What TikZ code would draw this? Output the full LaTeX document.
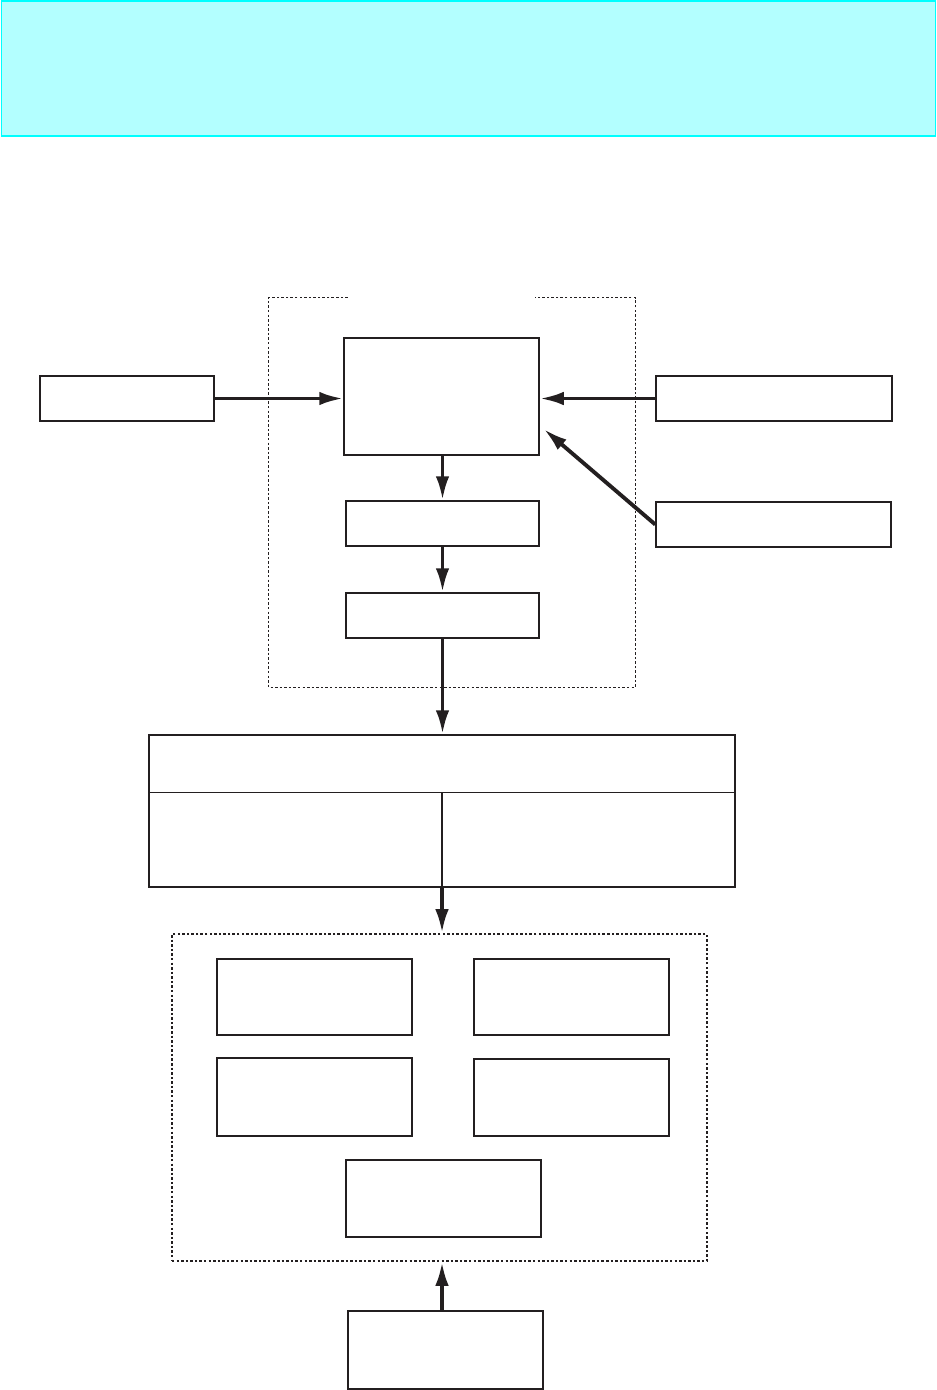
\documentclass[tikz,border=0pt]{standalone}
\usepackage{tikz}
\usetikzlibrary{arrows.meta,positioning,calc}
\definecolor{bannerfill}{HTML}{B3FFFF}
\definecolor{bannerline}{HTML}{00FFFF}
\definecolor{ink}{HTML}{231F20}

\begin{document}
\begin{tikzpicture}[
    blk/.style={draw=ink, line width=0.85pt, minimum width=3.9cm, minimum height=0.9cm, inner sep=0pt},
    grp/.style={draw=ink, line width=0.9pt, dash pattern=on 1.4pt off 1.2pt, inner sep=0pt},
    conn/.style={-{Latex[length=0.48cm,width=0.27cm]}, line width=2.2pt, draw=ink},
    banner/.style={draw=bannerline, fill=bannerfill, line width=0.8pt, inner sep=0pt}
]
\useasboundingbox (0,0) rectangle (18.74,-27.8);

% --- Top banner ---
\node[banner, minimum width=18.68cm, minimum height=2.7cm] (top) at (9.37, -1.37) {};

% --- Upper group (frame with open top) ---
\node[inner sep=0pt, minimum width=7.32cm, minimum height=7.78cm] (g1) at (9.04, -9.85) {};
\draw[grp] ([xshift=1.58cm]g1.north west) -- (g1.north west) -- (g1.south west)
    -- (g1.south east) -- (g1.north east) -- ([xshift=-2cm]g1.north east);

\node[blk, minimum height=2.34cm] (core) at (8.83, -7.93) {};
\node[blk, minimum width=3.86cm] (stepa) at (8.85, -10.47) {};
\node[blk, minimum width=3.86cm] (stepb) at (8.85, -12.31) {};

% Side inputs
\node[blk, minimum width=3.48cm] (inl)  at (2.54, -7.97)  {};
\node[blk, minimum width=4.72cm] (inr)  at (15.48, -7.97) {};
\node[blk, minimum width=4.7cm]  (inr2) at (15.47, -10.49) {};

% --- Table ---
\node[blk, minimum width=11.72cm, minimum height=3.04cm] (tab) at (8.84, -16.22) {};
\coordinate (tabl) at ([yshift=-1.16cm]tab.north west);
\coordinate (tabr) at ([yshift=-1.16cm]tab.north east);
\draw[ink, line width=0.85pt] (tabl) -- (tabr);
\draw[ink, line width=0.85pt] ($(tabl)!0.5!(tabr)$) -- (tab.south);

% --- Lower group ---
\node[grp, minimum width=10.7cm, minimum height=6.54cm] (g2) at (8.79, -21.95) {};
\node[blk, minimum height=1.52cm] (ca) at (6.29, -19.94)  {};
\node[blk, minimum height=1.52cm] (cb) at (11.43, -19.94) {};
\node[blk, minimum height=1.56cm] (cc) at (6.29, -21.94)  {};
\node[blk, minimum height=1.54cm] (cd) at (11.43, -21.95) {};
\node[blk, minimum height=1.54cm] (ce) at (8.87, -23.97)  {};

% Bottom source
\node[blk, minimum height=1.56cm] (src) at (8.91, -27.0) {};

% === Connectors ===
\draw[conn] (inl.east) -- (inl.east -| core.west);
\draw[conn] (inr.west) -- (inr.west -| core.east);
\draw[conn] (inr2.west) -- ([xshift=0.08cm, yshift=-0.65cm]core.east);

\draw[conn] (stepa.north |- core.south) -- (stepa.north);
\draw[conn] (stepa.south) -- (stepb.north);
\draw[conn] (stepb.south) -- (stepb.south |- tab.north);
\draw[conn] (tab.south) -- (tab.south |- g2.north);
\draw[conn] ([xshift=-0.07cm]src.north) -- ([xshift=-0.07cm]src.north |- g2.south);

\end{tikzpicture}
\end{document}
